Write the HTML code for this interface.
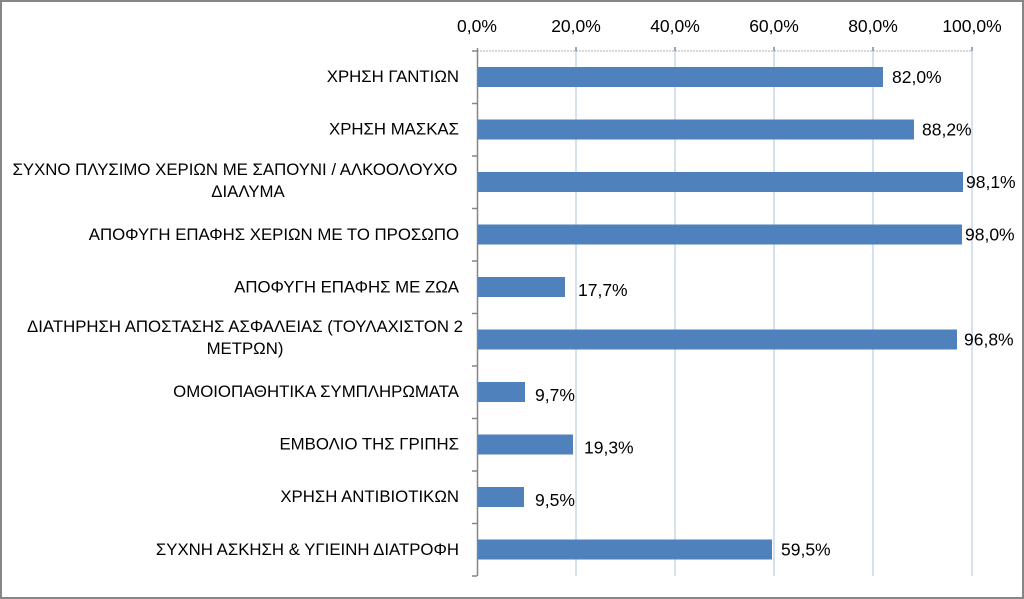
<!DOCTYPE html>
<html><head><meta charset="utf-8"><style>
html,body{margin:0;padding:0;background:#fff}
svg{display:block}
text{font-family:"Liberation Sans",sans-serif;fill:#000}
.c{font-size:16.8px}
.v{font-size:17.5px}
.t{font-size:17.5px}
</style></head><body>
<svg width="1024" height="599" viewBox="0 0 1024 599" xmlns="http://www.w3.org/2000/svg">
<rect x="1" y="1" width="1022" height="597" fill="#fff" stroke="#868686" stroke-width="2"/>
<g stroke="#c9d7ea" stroke-width="1.5">
<line x1="576" y1="51" x2="576" y2="576"/>
<line x1="675" y1="51" x2="675" y2="576"/>
<line x1="774" y1="51" x2="774" y2="576"/>
<line x1="873" y1="51" x2="873" y2="576"/>
<line x1="972" y1="51" x2="972" y2="576"/>
</g>
<line x1="477" y1="51" x2="972" y2="51" stroke="#b0b0b0" stroke-width="1" stroke-dasharray="2,1"/>
<g stroke="#868686" stroke-width="1.5">
<line x1="477.5" y1="48" x2="477.5" y2="576"/>
<line x1="576" y1="47" x2="576" y2="51"/><line x1="675" y1="47" x2="675" y2="51"/><line x1="774" y1="47" x2="774" y2="51"/><line x1="873" y1="47" x2="873" y2="51"/><line x1="972" y1="47" x2="972" y2="51"/>
<line x1="472" y1="51" x2="477" y2="51"/><line x1="472" y1="103.5" x2="477" y2="103.5"/><line x1="472" y1="156" x2="477" y2="156"/><line x1="472" y1="208.5" x2="477" y2="208.5"/><line x1="472" y1="261" x2="477" y2="261"/><line x1="472" y1="313.5" x2="477" y2="313.5"/><line x1="472" y1="366" x2="477" y2="366"/><line x1="472" y1="418.5" x2="477" y2="418.5"/><line x1="472" y1="471" x2="477" y2="471"/><line x1="472" y1="523.5" x2="477" y2="523.5"/><line x1="472" y1="576" x2="477" y2="576"/>
</g>
<g text-anchor="middle" class="t">
<text x="477" y="32" class="t">0,0%</text>
<text x="576" y="32" class="t">20,0%</text>
<text x="675" y="32" class="t">40,0%</text>
<text x="774" y="32" class="t">60,0%</text>
<text x="873" y="32" class="t">80,0%</text>
<text x="972" y="32" class="t">100,0%</text>
</g>
<g fill="#4f81bd">
<rect x="478" y="67" width="405" height="20"/>
<rect x="478" y="119.5" width="436" height="20"/>
<rect x="478" y="172" width="485" height="20"/>
<rect x="478" y="224.5" width="484" height="20"/>
<rect x="478" y="277" width="87" height="20"/>
<rect x="478" y="329.5" width="479" height="20"/>
<rect x="478" y="382" width="47" height="20"/>
<rect x="478" y="434.5" width="95" height="20"/>
<rect x="478" y="487" width="46" height="20"/>
<rect x="478" y="539.5" width="294" height="20"/>
</g>
<g>
<text x="892" y="83" class="v">82,0%</text>
<text x="922" y="135.5" class="v">88,2%</text>
<text x="966" y="188" class="v">98,1%</text>
<text x="965" y="240.5" class="v">98,0%</text>
<text x="578" y="296" class="v">17,7%</text>
<text x="964" y="345.5" class="v">96,8%</text>
<text x="535" y="401" class="v">9,7%</text>
<text x="584" y="453.5" class="v">19,3%</text>
<text x="535" y="506" class="v">9,5%</text>
<text x="781" y="555.5" class="v">59,5%</text>
</g>
<g text-anchor="end">
<text x="459" y="82" class="c">ΧΡΗΣΗ ΓΑΝΤΙΩΝ</text>
<text x="459" y="134.5" class="c">ΧΡΗΣΗ ΜΑΣΚΑΣ</text>
<text x="459" y="240" class="c">ΑΠΟΦΥΓΗ ΕΠΑΦΗΣ ΧΕΡΙΩΝ ΜΕ ΤΟ ΠΡΟΣΩΠΟ</text>
<text x="459" y="292.5" class="c">ΑΠΟΦΥΓΗ ΕΠΑΦΗΣ ΜΕ ΖΩΑ</text>
<text x="459" y="397" class="c">ΟΜΟΙΟΠΑΘΗΤΙΚΑ ΣΥΜΠΛΗΡΩΜΑΤΑ</text>
<text x="459" y="449.5" class="c">ΕΜΒΟΛΙΟ ΤΗΣ ΓΡΙΠΗΣ</text>
<text x="459" y="502" class="c">ΧΡΗΣΗ ΑΝΤΙΒΙΟΤΙΚΩΝ</text>
<text x="459" y="555" class="c">ΣΥΧΝΗ ΑΣΚΗΣΗ &amp; ΥΓΙΕΙΝΗ ΔΙΑΤΡΟΦΗ</text>
</g>
<g text-anchor="middle">
<text x="235" y="175" class="c">ΣΥΧΝΟ ΠΛΥΣΙΜΟ ΧΕΡΙΩΝ ΜΕ ΣΑΠΟΥΝΙ / ΑΛΚΟΟΛΟΥΧΟ</text>
<text x="248" y="197" class="c">ΔΙΑΛΥΜΑ</text>
<text x="245" y="332" class="c">ΔΙΑΤΗΡΗΣΗ ΑΠΟΣΤΑΣΗΣ ΑΣΦΑΛΕΙΑΣ (ΤΟΥΛΑΧΙΣΤΟΝ 2</text>
<text x="245" y="354" class="c">ΜΕΤΡΩΝ)</text>
</g>
</svg>
</body></html>
